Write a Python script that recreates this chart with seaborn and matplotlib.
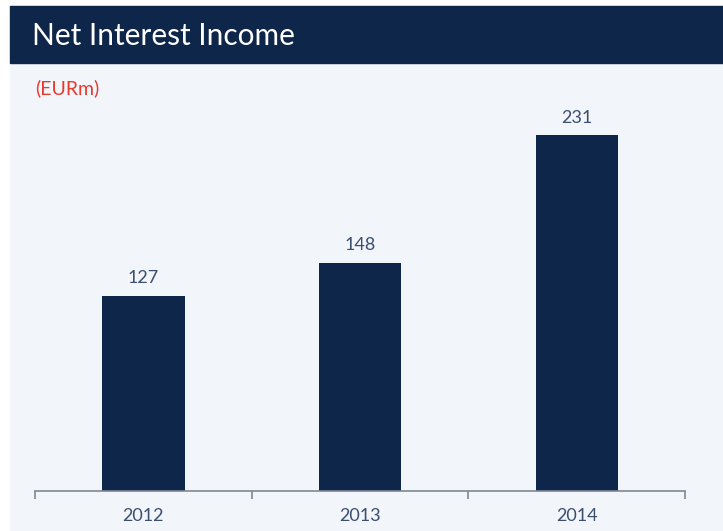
import numpy as np
import pandas as pd
import matplotlib
matplotlib.use("Agg")
import matplotlib.pyplot as plt
from matplotlib.patches import Rectangle
import seaborn as sns

# Dados
years = ["2012", "2013", "2014"]
nii = [127, 148, 231]

navy = "#0e2649"
bg = "#f2f5f9"
label_col = "#3a4e70"

sns.set_style("white")
plt.rcParams["font.family"] = ["Lato", "DejaVu Sans"]

W, H = 723, 531
fig = plt.figure(figsize=(W / 100, H / 100), dpi=100)
fig.patch.set_facecolor("white")

# fundo claro e faixa do titulo
fig.patches.append(Rectangle((10 / W, 0), 1 - 10 / W, (H - 63) / H,
                             transform=fig.transFigure, color=bg, zorder=-10))
fig.patches.append(Rectangle((10 / W, (H - 63) / H), 1 - 10 / W, 57 / H,
                             transform=fig.transFigure, color=navy, zorder=-10))
fig.text(32 / W, (H - 36) / H, "Net Interest Income", color="white",
         fontsize=21.5, va="center", ha="left")
fig.text(35 / W, (H - 88) / H, "(EURm)", color="#e8392f",
         fontsize=14, va="center", ha="left")

ax = fig.add_axes([35 / W, 40 / H, 650 / W, 391 / H])
ax.set_facecolor("none")
ax.set_zorder(5)

df = pd.DataFrame({"Year": years, "NII": nii})
sns.barplot(data=df, x="Year", y="NII", color=navy, saturation=1,
            width=0.38, edgecolor="none", ax=ax)

for i, v in enumerate(nii):
    ax.annotate(str(v), (i, v), xytext=(0, 7), textcoords="offset points",
                ha="center", va="bottom", fontsize=13, color=label_col)

ax.set_xlim(-0.5, 2.5)
ax.set_ylim(0, 254)
ax.set_xlabel("")
ax.set_ylabel("")
ax.set_yticks([])
for s in ["top", "right", "left"]:
    ax.spines[s].set_visible(False)
ax.spines["bottom"].set_color("#7d8796")
ax.spines["bottom"].set_linewidth(1.2)

ax.set_xticks([-0.5, 0.5, 1.5, 2.5])
ax.set_xticklabels([])
ax.tick_params(axis="x", which="major", bottom=True, direction="out",
               length=6, width=1.2, color="#7d8796")
ax.set_xticks(range(len(years)), minor=True)
ax.set_xticklabels(years, minor=True)
ax.tick_params(axis="x", which="minor", bottom=True, length=0, pad=12,
               labelsize=13, labelcolor=label_col)

plt.savefig("out.png", dpi=100)
